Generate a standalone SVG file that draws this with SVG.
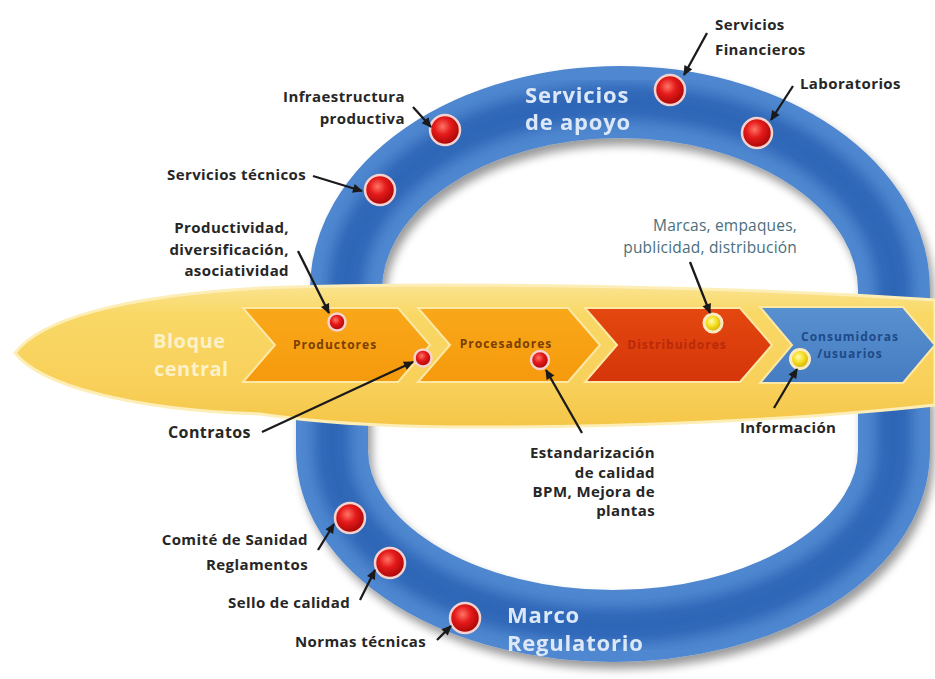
<svg xmlns="http://www.w3.org/2000/svg" width="935" height="679" viewBox="0 0 935 679">
<defs>
<style>
.lbl{font-family:"Open Sans","Liberation Sans",sans-serif;font-weight:700;font-size:15px;fill:#262626;letter-spacing:0.4px}
.mk{font-family:"Open Sans","Liberation Sans",sans-serif;font-weight:400;font-size:15.5px;fill:#4a6f7c;letter-spacing:0.2px}
.big{font-family:"Open Sans","Liberation Sans",sans-serif;font-weight:700;font-size:22px;fill:#dce8f7;letter-spacing:0.8px}
.bloque{font-family:"Open Sans","Liberation Sans",sans-serif;font-weight:700;font-size:20px;fill:#fdf1c8;letter-spacing:0.5px}
.chev{font-family:"Open Sans","Liberation Sans",sans-serif;font-weight:700;font-size:12px;letter-spacing:1px}
.con{fill:none;stroke:#1a1a1a;stroke-width:2.3;marker-end:url(#ah)}
.band{fill:none;stroke:#5088d0;stroke-width:72}
.bandc{fill:none;stroke:#2f66b7;stroke-width:36}
.rb{fill:url(#red);stroke:#f6d2cf;stroke-width:2.5}
.yb{fill:url(#yel);stroke:#fbeac0;stroke-width:3}
.cv{stroke:#fde8a6;stroke-width:2}
</style>
<marker id="ah" markerUnits="userSpaceOnUse" markerWidth="11" markerHeight="10" refX="9" refY="5" orient="auto" viewBox="0 0 10 10">
<path d="M0,0.5 L10,5 L0,9.5 z" fill="#1a1a1a"/>
</marker>
<radialGradient id="red" cx="0.42" cy="0.38" r="0.62">
<stop offset="0" stop-color="#ff7466"/>
<stop offset="0.45" stop-color="#e41a1a"/>
<stop offset="1" stop-color="#a80606"/>
</radialGradient>
<radialGradient id="yel" cx="0.42" cy="0.4" r="0.6">
<stop offset="0" stop-color="#fffbb0"/>
<stop offset="0.5" stop-color="#f3de1e"/>
<stop offset="1" stop-color="#d1ad00"/>
</radialGradient>
<linearGradient id="ybg" x1="0" y1="0" x2="0" y2="1">
<stop offset="0" stop-color="#fbe391"/>
<stop offset="0.2" stop-color="#f9d866"/>
<stop offset="0.7" stop-color="#f8d05a"/>
<stop offset="1" stop-color="#f5c648"/>
</linearGradient>
<linearGradient id="org" x1="0" y1="0" x2="0" y2="1">
<stop offset="0" stop-color="#f9a81a"/>
<stop offset="1" stop-color="#f59a0c"/>
</linearGradient>
<linearGradient id="rd" x1="0" y1="0" x2="0" y2="1">
<stop offset="0" stop-color="#e4470f"/>
<stop offset="1" stop-color="#d5360a"/>
</linearGradient>
<linearGradient id="bl" x1="0" y1="0" x2="0" y2="1">
<stop offset="0" stop-color="#5990d0"/>
<stop offset="1" stop-color="#467dc2"/>
</linearGradient>
<filter id="sh" x="-10%" y="-10%" width="120%" height="130%">
<feGaussianBlur in="SourceAlpha" stdDeviation="5"/>
<feOffset dx="4" dy="7" result="o"/>
<feComponentTransfer><feFuncA type="linear" slope="0.4"/></feComponentTransfer>
<feMerge><feMergeNode/><feMergeNode in="SourceGraphic"/></feMerge>
</filter>
<filter id="bl6" x="-10%" y="-10%" width="120%" height="120%">
<feGaussianBlur stdDeviation="7"/>
</filter>
</defs>
<rect width="935" height="679" fill="#ffffff"/>

<g id="servicios-apoyo" filter="url(#sh)">
<path class="band" d="M 346 314 L 346 290 A 274 188 0 0 1 894 290 L 894 314"/>
<path class="bandc" d="M 346 314 L 346 290 A 274 188 0 0 1 894 290 L 894 314" filter="url(#bl6)"/>
<text class="big" x="525" y="103">Servicios</text>
<text class="big" x="525" y="130">de apoyo</text>
</g>

<g id="marco-regulatorio" filter="url(#sh)">
<path class="band" d="M 332 395 L 332 450 A 281 176 0 0 0 894 450 L 894 395"/>
<path class="bandc" d="M 332 395 L 332 450 A 281 176 0 0 0 894 450 L 894 395" filter="url(#bl6)"/>
<text class="big" x="507" y="623">Marco</text>
<text class="big" x="507" y="651">Regulatorio</text>
</g>

<g id="bloque-central">
<path d="M 15 353 C 40 320 120 296 260 288 C 450 281 750 287 935 300 L 935 405 C 800 420 620 428 450 427 C 360 426 300 420 260 414 C 130 410 40 385 15 353 Z" fill="url(#ybg)" stroke="#fdeeb8" stroke-width="3"/>
<text class="bloque" x="153" y="348">Bloque</text>
<text class="bloque" x="154" y="376">central</text>
</g>

<g id="productores">
<polygon class="cv" points="243,308 398,308 430,345 398,382 243,382 275,345" fill="url(#org)"/>
<text class="chev" x="335" y="349" text-anchor="middle" fill="#7a3e00">Productores</text>
</g>
<g id="procesadores">
<polygon class="cv" points="418,308 568,308 600,345 568,382 418,382 450,345" fill="url(#org)"/>
<text class="chev" x="506" y="348" text-anchor="middle" fill="#7a3e00">Procesadores</text>
</g>
<g id="distribuidores">
<polygon class="cv" points="585,308 740,308 772,345 740,382 585,382 617,345" fill="url(#rd)"/>
<text class="chev" x="677" y="349" text-anchor="middle" fill="#b82a0a">Distribuidores</text>
</g>
<g id="consumidores">
<polygon class="cv" points="760,307 903,307 935,345 903,383 760,383 792,345" fill="url(#bl)"/>
<text class="chev" x="850" y="341" text-anchor="middle" fill="#1d4a88">Consumidoras</text>
<text class="chev" x="850" y="358" text-anchor="middle" fill="#1d4a88">/usuarios</text>
</g>

<g id="dots">
<circle class="rb" cx="445" cy="130" r="15"/>
<circle class="rb" cx="380" cy="190" r="15"/>
<circle class="rb" cx="670" cy="90" r="15"/>
<circle class="rb" cx="757" cy="133" r="15"/>
<circle class="rb" cx="350" cy="518" r="15"/>
<circle class="rb" cx="390" cy="563" r="15"/>
<circle class="rb" cx="465" cy="618" r="15"/>
<circle class="rb" cx="337" cy="322" r="8.5" stroke-width="3"/>
<circle class="rb" cx="423" cy="358" r="8.5" stroke-width="3"/>
<circle class="rb" cx="540" cy="360" r="9" stroke-width="3"/>
<circle class="yb" cx="713" cy="323" r="9"/>
<circle class="yb" cx="800" cy="359" r="9.5"/>
</g>

<g id="labels">
<g id="lbl-infraestructura"><text class="lbl" x="405" y="102" text-anchor="end">Infraestructura</text><text class="lbl" x="405" y="124" text-anchor="end">productiva</text></g>
<g id="lbl-servicios-tecnicos"><text class="lbl" x="167" y="180">Servicios técnicos</text></g>
<g id="lbl-productividad"><text class="lbl" x="289" y="233" text-anchor="end">Productividad,</text><text class="lbl" x="289" y="255" text-anchor="end">diversificación,</text><text class="lbl" x="289" y="276" text-anchor="end">asociatividad</text></g>
<g id="lbl-financieros"><text class="lbl" x="715" y="30">Servicios</text><text class="lbl" x="715" y="55">Financieros</text></g>
<g id="lbl-laboratorios"><text class="lbl" x="800" y="89">Laboratorios</text></g>
<g id="lbl-marcas"><text class="mk" x="797" y="231" text-anchor="end">Marcas, empaques,</text><text class="mk" x="797" y="253" text-anchor="end">publicidad, distribución</text></g>
<g id="lbl-contratos"><text class="lbl" x="168" y="438" style="font-size:16px">Contratos</text></g>
<g id="lbl-informacion"><text class="lbl" x="740" y="433">Información</text></g>
<g id="lbl-estandarizacion"><text class="lbl" x="655" y="458" text-anchor="end">Estandarización</text><text class="lbl" x="655" y="478" text-anchor="end">de calidad</text><text class="lbl" x="655" y="497" text-anchor="end">BPM, Mejora de</text><text class="lbl" x="655" y="516" text-anchor="end">plantas</text></g>
<g id="lbl-comite"><text class="lbl" x="308" y="545" text-anchor="end">Comité de Sanidad</text><text class="lbl" x="308" y="570" text-anchor="end">Reglamentos</text></g>
<g id="lbl-sello"><text class="lbl" x="228" y="608">Sello de calidad</text></g>
<g id="lbl-normas"><text class="lbl" x="295" y="647">Normas técnicas</text></g>
</g>

<g id="connectors">
<line class="con" x1="413" y1="107" x2="431" y2="127"/>
<line class="con" x1="313" y1="176" x2="362" y2="191"/>
<line class="con" x1="707" y1="33" x2="684" y2="75"/>
<line class="con" x1="793" y1="86" x2="771" y2="120"/>
<line class="con" x1="298" y1="251" x2="329" y2="313"/>
<line class="con" x1="262" y1="432" x2="413" y2="362"/>
<line class="con" x1="690" y1="262" x2="710" y2="313"/>
<line class="con" x1="582" y1="433" x2="546" y2="370"/>
<line class="con" x1="774" y1="408" x2="797" y2="369"/>
<line class="con" x1="318" y1="550" x2="334" y2="524"/>
<line class="con" x1="360" y1="600" x2="375" y2="570"/>
<line class="con" x1="437" y1="640" x2="451" y2="626"/>
</g>
</svg>
